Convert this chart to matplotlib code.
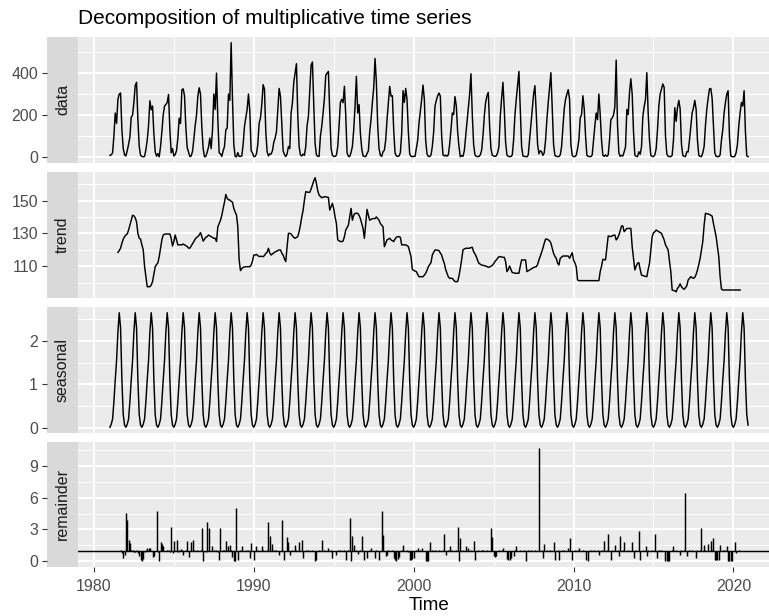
import numpy as np
import matplotlib
matplotlib.use("Agg")
import matplotlib.pyplot as plt

plt.rcParams['font.family'] = ['Liberation Sans', 'DejaVu Sans']

# ---------------- data (monthly, Jan 1981 .. Dec 2020) ----------------
start_year = 1981
nan = np.nan

data_rows = [
    [8, 10, 20, 100, 210, 160, 275, 300, 305, 130, 40, 10],      # 1981
    [5, 30, 60, 95, 190, 200, 260, 340, 356, 178, 50, 8],        # 1982
    [3, 1, 3, 35, 80, 150, 268, 225, 243, 110, 25, 4],           # 1983
    [16, 1, 50, 120, 200, 243, 250, 260, 298, 130, 20, 40],      # 1984
    [5, 12, 30, 90, 185, 160, 320, 325, 292, 140, 45, 23],       # 1985
    [2, 5, 27, 85, 150, 200, 290, 330, 300, 140, 40, 1],         # 1986
    [3, 23, 47, 90, 40, 130, 300, 227, 400, 180, 20, 15],        # 1987
    [3, 30, 50, 130, 137, 300, 270, 545, 275, 60, 3, 1],         # 1988
    [21, 3, 3, 5, 60, 146, 186, 227, 300, 220, 30, 20],          # 1989
    [2, 3, 15, 60, 160, 186, 250, 345, 324, 120, 25, 5],         # 1990
    [15, 14, 30, 70, 90, 120, 227, 327, 290, 162, 30, 12],       # 1991
    [2, 15, 50, 40, 210, 260, 356, 400, 445, 200, 50, 10],       # 1992
    [5, 14, 8, 50, 150, 194, 320, 437, 453, 250, 65, 10],        # 1993
    [3, 3, 100, 146, 210, 280, 389, 400, 408, 210, 40, 8],       # 1994
    [3, 3, 8, 50, 150, 260, 275, 259, 337, 200, 20, 3],          # 1995
    [2, 22, 50, 130, 243, 385, 210, 250, 113, 40, 5, 3],         # 1996
    [2, 16, 30, 120, 180, 260, 330, 470, 356, 150, 40, 8],       # 1997
    [3, 25, 32, 81, 178, 260, 337, 290, 292, 130, 20, 5],        # 1998
    [3, 5, 20, 113, 316, 260, 327, 275, 120, 15, 3, 2],          # 1999
    [3, 3, 40, 80, 162, 220, 275, 343, 275, 80, 15, 3],          # 2000
    [2, 10, 50, 120, 243, 270, 292, 305, 290, 100, 10, 5],       # 2001
    [9, 4, 10, 60, 130, 210, 202, 288, 243, 120, 50, 1],         # 2002
    [7, 3, 30, 97, 160, 227, 300, 397, 200, 60, 10, 3],          # 2003
    [2, 3, 10, 32, 100, 194, 260, 292, 308, 146, 40, 8],         # 2004
    [5, 3, 5, 20, 50, 194, 280, 356, 227, 70, 10, 3],            # 2005
    [2, 2, 10, 81, 200, 275, 340, 408, 227, 50, 5, 3],           # 2006
    [2, 1, 10, 81, 150, 227, 300, 340, 210, 60, 15, 30],         # 2007
    [25, 8, 20, 81, 180, 260, 330, 402, 227, 60, 8, 3],          # 2008
    [2, 2, 10, 48, 138, 230, 275, 300, 321, 275, 60, 8],         # 2009
    [2, 2, 8, 40, 81, 186, 202, 292, 230, 100, 8, 3],            # 2010
    [2, 2, 10, 81, 150, 210, 178, 300, 202, 80, 8, 3],           # 2011
    [10, 3, 10, 81, 178, 186, 200, 240, 462, 150, 20, 3],        # 2012
    [8, 5, 25, 48, 227, 202, 308, 373, 300, 120, 10, 3],         # 2013
    [2, 25, 13, 48, 194, 240, 275, 402, 210, 80, 8, 3],          # 2014
    [2, 10, 40, 130, 243, 300, 324, 348, 332, 100, 15, 3],       # 2015
    [2, 2, 8, 81, 235, 170, 235, 270, 230, 60, 8, 3],            # 2016
    [2, 25, 24, 80, 146, 210, 235, 270, 227, 80, 8, 3],          # 2017
    [2, 20, 50, 150, 227, 280, 324, 327, 280, 150, 20, 3],       # 2018
    [2, 2, 10, 80, 130, 210, 260, 300, 316, 100, 5, 2],          # 2019
    [1, 3, 20, 60, 146, 210, 260, 243, 316, 120, 5, 2],          # 2020
]

trend_rows = [
    [nan, nan, nan, nan, nan, nan, 118.4, 119.5, 121, 124, 126.5, 128],
    [129, 129.6, 132, 135, 138, 141, 140.7, 139.5, 137, 130, 127, 126.5],
    [123, 120, 110, 103.6, 97.5, 97.5, 97.5, 98.5, 100.6, 105, 109.7, 111],
    [112, 115.8, 121, 126, 129, 129.5, 129.6, 129.6, 129.6, 129.6, 127, 122.3],
    [125, 129, 126, 123, 123, 123, 123, 123.5, 123, 122.5, 122, 121],
    [121, 122.3, 123.5, 125, 126.5, 127.5, 128, 129, 130.4, 128, 125.3, 126.5],
    [127.6, 128, 129, 128.5, 128, 127.5, 127, 127, 125, 134, 136, 138],
    [141, 145.2, 149, 153.7, 151.3, 150.5, 150.3, 149.5, 149, 145.2, 143, 141.2],
    [134, 113.8, 107.3, 108.5, 109.3, 109.5, 109.7, 109.7, 109.7, 109.7, 110.7, 113],
    [116.8, 116.8, 117.2, 116.5, 115.8, 116, 116, 115.8, 116.5, 117.8, 118.5, 120.9],
    [118, 116.8, 117.5, 118, 118.8, 119, 119.5, 119.9, 119.9, 118, 116.8, 114.5],
    [112.8, 122, 130, 130, 129.6, 128.5, 127.5, 127, 127.5, 128, 131, 135],
    [140, 144, 150.3, 155.4, 155.2, 155, 155, 157, 159.4, 162, 163.9, 160.4],
    [156, 153.3, 152.5, 151.7, 152, 152.3, 152.3, 152, 151.9, 144.2, 146.2, 148.3],
    [145, 140, 136, 126, 125.5, 125, 125, 125.3, 128, 132, 133.5, 135],
    [140, 145.2, 138, 141, 142.2, 142.2, 142.2, 141, 139, 136, 133, 127],
    [136, 144.6, 141, 138, 138.5, 139, 139, 139, 140, 139, 138, 136],
    [135, 134, 121.9, 124, 126, 126.5, 127, 126, 125.5, 125, 126.5, 127.6],
    [128, 128, 127.6, 123, 123, 123, 123, 122.5, 122, 119, 115.8, 108],
    [107.5, 107, 106.7, 105, 103.6, 103.6, 103.6, 103.6, 104.5, 105.7, 107.5, 109.7],
    [111, 112.2, 116.8, 118.5, 119.9, 119.8, 119.7, 119.5, 118, 116.8, 114, 111.7],
    [108, 105.7, 103.5, 102.6, 102.6, 102.6, 101.5, 100.6, 100.6, 100.6, 104, 108.7],
    [114, 119.9, 120.5, 120.9, 120.9, 120.9, 121, 121.3, 121.5, 118.8, 117.5, 115.8],
    [113.5, 111.7, 111.2, 110.7, 110.5, 110.3, 110.1, 109.8, 109.3, 109.5, 110, 110.5],
    [111.5, 112.8, 113.8, 114.8, 115.8, 115.8, 115.6, 115.4, 115.4, 112.8, 106.7, 108],
    [110.1, 108, 106.1, 106, 105.7, 105.7, 105.7, 105.7, 110, 113.8, 113.8, 113.8],
    [113.8, 106.7, 107.2, 107.7, 108.2, 108.7, 109.2, 109.5, 109.7, 111, 113.8, 116],
    [118.5, 120.9, 124, 126.5, 126.5, 126, 125.5, 124, 121, 117.8, 116, 114.8],
    [112, 110.7, 114.8, 115.5, 116.2, 116.2, 116.2, 116.2, 116.2, 114.8, 116.5, 118.2],
    [113.8, 112, 109.7, 101.6, 101.2, 101.2, 101.2, 101.2, 101.2, 101.2, 101.2, 101.2],
    [101.2, 101.2, 101.2, 101.2, 101.2, 101.2, 101.2, 101.2, 106.7, 110, 114.2, 114],
    [113.8, 120.9, 128.4, 128.2, 128, 128.5, 128.8, 129, 126, 127, 129, 131.5],
    [134.5, 134.5, 131, 132, 133, 133, 133, 133, 121.9, 115, 107.7, 110],
    [111.7, 112.2, 108, 104.6, 104.3, 104, 103.8, 103.6, 108, 111.7, 120, 128],
    [130.4, 131, 132, 131.5, 131, 130.5, 130, 128, 126, 123, 121.5, 119.9],
    [113, 106.7, 95.5, 95.2, 95, 94.4, 96.5, 97.5, 99.2, 97.5, 96.5, 95.9],
    [97, 98, 101.6, 102.5, 103.6, 103, 102.6, 103.2, 105, 107.7, 111, 114.8],
    [120, 125, 135, 142.2, 142, 141.8, 141.5, 141, 140.5, 136, 132, 128],
    [122, 115.8, 103.6, 96, 95.5, 95.5, 95.5, 95.5, 95.5, 95.5, 95.5, 95.5],
    [95.5, 95.5, 95.5, 95.5, 95.5, 95.5, nan, nan, nan, nan, nan, nan],
]

# seasonal figure (Jan..Dec), repeated every year by the decomposition
seasonal_figure = [0.01, 0.08, 0.2, 0.6, 1.1, 1.55, 2.2, 2.65, 2.3, 1.1, 0.3, 0.06]

remainder_rows = [
    [nan, nan, nan, nan, nan, nan, 0.95, 0.95, 1.02, 0.8, 0.3, 0.6],
    [4.55, 3.87, 2.0, 1.76, 1.1, 1.02, 0.92, 0.9, 1.1, 0.8, 0.5, 0.1],
    [0.05, 0.2, 0.9, 1.05, 1.3, 1.3, 1.25, 0.95, 0.4, 0.5, 1.0, 4.7],
    [0.9, 0.05, 1.8, 1.6, 1.4, 1.0, 0.95, 1.02, 1.1, 0.9, 3.2, 0.8],
    [1.95, 1.0, 2.0, 0.9, 1.05, 1.2, 1.1, 0.6, 1.0, 1.05, 1.9, 0.4],
    [1.0, 1.85, 2.0, 1.1, 0.95, 1.05, 1.0, 0.97, 1.03, 3.1, 0.05, 1.0],
    [0.9, 3.7, 3.1, 1.0, 0.95, 1.4, 1.05, 1.0, 1.1, 0.9, 0.15, 3.1],
    [1.0, 1.05, 1.1, 1.9, 1.0, 1.4, 1.55, 1.05, 0.4, 0.05, 0.0, 5.05],
    [0.1, 1.0, 1.05, 1.45, 1.0, 0.95, 1.03, 0.98, 1.02, 0.3, 1.7, 1.0],
    [0.15, 1.0, 1.4, 1.05, 0.97, 1.0, 1.4, 1.02, 1.0, 0.95, 1.05, 3.7],
    [2.4, 1.0, 1.65, 1.05, 0.98, 1.02, 0.95, 0.6, 1.0, 3.87, 1.0, 0.15],
    [1.0, 2.3, 1.85, 0.6, 1.0, 1.05, 0.97, 1.55, 1.02, 1.0, 1.85, 1.0],
    [2.0, 0.3, 1.0, 1.05, 0.98, 1.02, 1.0, 0.97, 1.03, 1.0, 0.0, 0.15],
    [1.0, 1.05, 0.98, 2.0, 1.0, 1.03, 0.97, 1.0, 1.25, 0.95, 1.05, 0.3],
    [1.0, 1.0, 0.6, 1.05, 0.98, 1.02, 1.0, 0.97, 1.03, 0.15, 1.0, 1.05],
    [4.1, 0.0, 2.4, 1.55, 1.0, 1.02, 0.7, 0.98, 1.03, 2.4, 1.0, 0.15],
    [1.0, 0.3, 1.0, 1.05, 1.3, 1.0, 0.97, 0.3, 1.03, 1.0, 0.15, 1.0],
    [4.7, 2.5, 1.0, 0.5, 0.6, 1.02, 0.97, 1.0, 1.05, 0.3, 0.1, 0.0],
    [0.2, 0.4, 1.0, 1.05, 1.55, 1.0, 0.97, 1.02, 0.9, 0.15, 0.15, 0.2],
    [0.3, 1.0, 1.05, 1.3, 0.98, 1.02, 1.3, 1.0, 0.97, 0.05, 0.05, 0.05],
    [1.8, 1.0, 1.05, 0.98, 1.02, 1.0, 0.97, 1.03, 1.0, 0.95, 1.05, 2.6],
    [0.6, 1.0, 1.05, 1.4, 0.98, 1.02, 1.0, 0.97, 1.03, 3.2, 0.0, 2.15],
    [1.0, 1.05, 0.98, 1.4, 1.0, 1.3, 0.97, 1.02, 1.0, 1.95, 0.15, 1.0],
    [1.05, 1.0, 0.98, 1.02, 1.05, 0.97, 1.0, 1.03, 0.98, 1.0, 3.1, 2.3],
    [0.5, 0.4, 0.5, 1.0, 1.05, 0.98, 1.02, 1.3, 1.0, 0.97, 0.2, 0.15],
    [0.15, 0.3, 1.0, 0.5, 1.02, 1.45, 1.0, 0.97, 1.03, 1.0, 0.95, 1.05],
    [0.05, 1.0, 1.05, 0.98, 1.02, 1.0, 0.97, 1.03, 1.0, 0.95, 10.7, 1.0],
    [1.05, 0.3, 1.65, 1.0, 1.05, 0.98, 1.02, 1.0, 0.97, 1.8, 0.15, 1.0],
    [1.05, 0.15, 1.0, 1.05, 0.98, 1.02, 1.0, 0.97, 1.25, 2.15, 1.0, 0.15],
    [1.0, 1.05, 0.98, 1.02, 1.3, 1.0, 0.97, 1.03, 1.0, 0.15, 1.0, 0.05],
    [1.0, 1.05, 0.98, 1.02, 1.0, 0.97, 1.03, 0.6, 1.0, 1.05, 0.98, 1.95],
    [1.0, 1.05, 2.55, 1.0, 0.15, 1.02, 1.0, 1.55, 0.97, 1.03, 0.5, 2.4],
    [1.0, 1.05, 1.85, 1.0, 0.98, 1.02, 1.0, 0.97, 1.85, 0.3, 1.0, 1.05],
    [0.98, 2.9, 0.15, 1.0, 1.05, 0.98, 1.45, 0.5, 1.02, 1.0, 0.97, 1.03],
    [1.0, 2.6, 1.0, 0.3, 1.05, 0.98, 1.02, 1.0, 0.97, 0.05, 0.05, 0.05],
    [0.05, 1.0, 1.05, 1.4, 0.98, 1.02, 1.0, 0.97, 0.6, 1.03, 1.0, 1.05],
    [6.4, 0.5, 1.0, 1.05, 0.98, 1.02, 1.0, 0.97, 0.3, 1.03, 1.0, 1.05],
    [3.1, 1.0, 1.55, 1.05, 0.98, 1.65, 1.0, 1.9, 1.02, 2.15, 0.1, 0.1],
    [0.1, 0.1, 1.55, 1.0, 1.05, 0.98, 1.02, 1.4, 0.0, 0.0, 0.0, 0.0],
    [1.0, 1.8, 0.8, 1.0, 1.05, 1.0, nan, nan, nan, nan, nan, nan],
]

panel_names = ["data", "trend", "seasonal", "remainder"]
major_ticks = {
    "data": [0, 200, 400],
    "trend": [110, 130, 150],
    "seasonal": [0, 1, 2],
    "remainder": [0, 3, 6, 9],
}
minor_ticks = {
    "data": [100, 300, 500],
    "trend": [100, 120, 140, 160],
    "seasonal": [0.5, 1.5, 2.5],
    "remainder": [1.5, 4.5, 7.5, 10.5],
}
x_major = [1980, 1990, 2000, 2010, 2020]
x_minor = [1985, 1995, 2005, 2015]
title = "Decomposition of multiplicative time series"
xlabel = "Time"

# ---------------- assemble series ----------------
data = np.concatenate([np.array(r, float) for r in data_rows])
trend = np.concatenate([np.array(r, float) for r in trend_rows])
remainder = np.concatenate([np.array(r, float) for r in remainder_rows])
n = len(data)
seasonal = np.tile(np.array(seasonal_figure), n // 12 + 1)[:n]
t = start_year + np.arange(n) / 12.0
series = {"data": data, "trend": trend, "seasonal": seasonal, "remainder": remainder}

# ---------------- layout ----------------
W, H = 769, 616
fig = plt.figure(figsize=(W / 100, H / 100), dpi=100)
fig.patch.set_facecolor("white")

left_px, right_px = 78, 780
strip_l = 47
panels_px = [(37, 162.5), (172, 297.5), (307, 433), (442, 567)]

span = t[-1] - t[0]
xlim = (t[0] - 0.05 * span, t[-1] + 0.05 * span)

TICK_COL = "#4D4D4D"
TICKMARK_COL = "#333333"
LW = 1.05

for i, name in enumerate(panel_names):
    top, bot = panels_px[i]
    rect = [left_px / W, 1 - bot / H, (right_px - left_px) / W, (bot - top) / H]
    ax = fig.add_axes(rect)
    ax.set_facecolor("#EBEBEB")
    for s in ax.spines.values():
        s.set_visible(False)

    y = series[name]
    if name == "remainder":
        ok = ~np.isnan(y)
        ax.vlines(t[ok], 1, y[ok], color="black", lw=LW)
        ax.axhline(1, color="black", lw=LW)
    else:
        ax.plot(t, y, color="black", lw=LW, solid_joinstyle="round")
    lo, hi = np.nanmin(y), np.nanmax(y)
    pad = 0.05 * (hi - lo)
    ax.set_ylim(lo - pad, hi + pad)
    ax.set_xlim(*xlim)

    ax.set_xticks(x_major)
    ax.set_xticks(x_minor, minor=True)
    ax.set_yticks(major_ticks[name])
    ax.set_yticks(minor_ticks[name], minor=True)
    ax.grid(which="major", color="white", lw=1.45)
    ax.grid(which="minor", color="white", lw=0.75)
    ax.set_axisbelow(True)
    ax.tick_params(axis="y", which="both", left=False, labelleft=False)
    ax.tick_params(axis="x", which="minor", bottom=False)
    if i == len(panel_names) - 1:
        ax.tick_params(axis="x", which="major", length=3.6, width=0.8,
                       color=TICKMARK_COL, labelcolor=TICK_COL, labelsize=11.5, pad=5)
    else:
        ax.tick_params(axis="x", which="major", bottom=False, labelbottom=False)

    # strip on the left
    sax = fig.add_axes([strip_l / W, 1 - bot / H, (left_px - strip_l) / W, (bot - top) / H])
    sax.set_facecolor("#D9D9D9")
    for s in sax.spines.values():
        s.set_visible(False)
    sax.set_ylim(ax.get_ylim())
    sax.set_yticks(major_ticks[name])
    sax.set_yticklabels([str(v) for v in major_ticks[name]])
    sax.set_xticks([])
    sax.tick_params(axis="y", which="major", length=3.6, width=0.8, color=TICKMARK_COL,
                    labelcolor=TICK_COL, labelsize=11.5, pad=2.8)
    sax.text(0.5, 0.5, name, rotation=90, ha="center", va="center",
             transform=sax.transAxes, color="#1A1A1A", size=11.5)

fig.text(left_px / W, 1 - 24 / H, title, ha="left", va="baseline", size=15, color="black")
fig.text((left_px + right_px) / 2 / W, 1 - 605 / H, xlabel, ha="center", va="center",
         size=13.5, color="black")

fig.savefig("out.png", dpi=100)
